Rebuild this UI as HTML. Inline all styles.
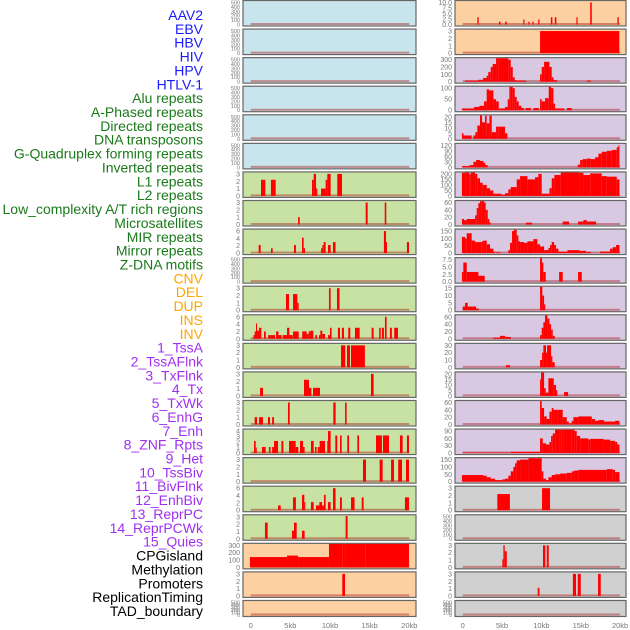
<!DOCTYPE html>
<html><head><meta charset="utf-8">
<style>
html,body{margin:0;padding:0;background:#fff;}
svg{display:block;font-family:"Liberation Sans",sans-serif;}
</style></head>
<body>
<svg id="chart" width="630" height="630" viewBox="0 0 630 630" xmlns="http://www.w3.org/2000/svg"></svg>
<script>
const labels = ["AAV2","EBV","HBV","HIV","HPV","HTLV-1","Alu repeats","A-Phased repeats","Directed repeats","DNA transposons","G-Quadruplex forming repeats","Inverted repeats","L1 repeats","L2 repeats","Low_complexity A/T rich regions","Microsatellites","MIR repeats","Mirror repeats","Z-DNA motifs","CNV","DEL","DUP","INS","INV","1_TssA","2_TssAFlnk","3_TxFlnk","4_Tx","5_TxWk","6_EnhG","7_Enh","8_ZNF_Rpts","9_Het","10_TssBiv","11_BivFlnk","12_EnhBiv","13_ReprPC","14_ReprPCWk","15_Quies","CPGisland","Methylation","Promoters","ReplicationTiming","TAD_boundary"];
const labelGroups = ["v","v","v","v","v","v","r","r","r","r","r","r","r","r","r","r","r","r","r","s","s","s","s","s","c","c","c","c","c","c","c","c","c","c","c","c","c","c","c","o","o","o","o","o"];
const panelBg = ["b","b","b","b","b","b","g","g","g","g","g","g","g","g","g","g","g","g","g","a","a","a","a","a","p","p","p","p","p","p","p","p","p","p","p","p","p","p","p","y","y","y","y","y"];
const T500=[0,100,200,300,400,500], T3=[0,1,2,3], T6=[0,2,4,6];
const ticks = [T500,T500,T500,T500,T500,T500,T3,T3,T6,T500,T3,T6,T3,T3,T3,[0,1,2,3,4],T3,T6,T3,[0,100,200,300],T3,T500,
 [0,2.5,5,7.5,10],T3,[0,100,200,300],[0,50,100],[0,5,10,15,20],[0,30,60,90,120],[0,50,100,150,200],[0,20,40,60],[0,50,100,150],[0,2.5,5,7.5],[0,5,10,15],[0,20,40,60],[0,10,20,30],[0,5,10,15,20],[0,20,40,60],[0,30,60,90],[0,50,100,150],T3,T500,T3,T3,T500];
const tickDec = [0,0,0,0,0,0,0,0,0,0,0,0,0,0,0,0,0,0,0,0,0,0,1,0,0,0,0,0,0,0,0,1,0,0,0,0,0,0,0,0,0,0,0,0];
// segments: [startKb, endKb, value]
const segs = [
[],[],[],[],[],[],
[[1.3,1.85,2.2],[2.55,3.15,2.2],[7.73,7.94,2.2],[7.94,8.24,3],[8.24,8.4,1],[8.87,9.45,1],[9.45,9.66,2.2],[9.66,10.08,3],[10.92,11.51,3]],
[[5.97,6.18,1],[14.5,14.75,3],[16.9,17.1,3]],
[[1.0,1.26,2.2],[2.56,2.77,1.3],[5.46,5.7,2.2],[6.47,6.68,4.2],[6.68,6.85,1.3],[8.87,9.04,1.3],[9.04,9.2,2.2],[9.2,9.45,3],[9.75,10.08,2.2],[10.38,10.7,3],[16.8,17.06,6],[17.06,17.18,3],[19.7,19.96,3]],
[],
[[4.45,4.83,2.2],[5.34,5.88,2.2],[5.88,6.05,1],[9.87,10.08,3],[10.88,11.2,3]],
[[0.34,0.5,1],[0.5,0.67,2],[0.67,0.8,4.2],[0.8,1.05,2.2],[1.05,1.34,3],[1.68,1.9,2],[2.2,2.5,1],[2.52,3.07,1],[3.2,3.5,2],[3.5,3.9,1],[4.03,4.58,1],[4.58,4.87,3],[4.87,5.3,1],[5.34,6.05,2],[6.5,7.06,2],[7.06,7.31,1.3],[7.31,7.52,2],[7.52,7.9,2.2],[8.15,8.36,1],[8.61,8.78,1],[8.78,9.03,2.2],[9.03,9.37,1.3],[9.75,10.0,1],[10.0,10.2,3],[11.0,11.26,3],[11.5,11.76,3],[12.3,12.56,3],[13.15,13.74,3],[15.25,15.5,3],[16.2,16.4,3],[16.55,16.8,3],[16.93,17.14,6],[17.56,17.8,3],[18.1,18.57,3]],
[[11.39,11.93,3],[12.14,12.52,3],[12.65,14.4,3]],
[[1.18,1.55,1.1],[6.72,7.35,2.2],[7.35,7.65,1.1],[7.86,8.74,1.1],[15.17,15.5,3]],
[[0.5,0.8,1],[1.05,1.55,1],[2.18,2.44,1],[2.7,2.94,1],[4.7,4.92,3],[10.42,10.71,3],[11.9,12.1,3]],
[[0.42,0.63,2.2],[0.63,0.76,1],[1.43,1.89,1.1],[2.3,2.5,1.1],[2.7,2.94,1.1],[2.94,3.45,2.2],[3.87,4.12,2.2],[4.83,5.67,2.2],[5.67,6.0,1.1],[6.22,6.6,2.2],[6.6,6.8,1.1],[7.6,7.94,2.2],[8.1,8.3,1.1],[8.45,8.7,1.1],[8.7,9.37,2.2],[9.66,9.75,2.2],[9.75,10.08,4],[10.67,10.92,3.2],[11.26,11.47,3.2],[12.18,12.4,3.2],[13.45,13.66,3.2],[15.8,16.55,3.2],[16.68,17.44,3.2],[18.82,19.16,3.2],[19.7,19.96,3.2]],
[[14.16,14.54,3],[16.26,16.64,3],[17.7,18.07,3],[18.6,19.08,3],[19.58,19.96,3]],
[[3.45,3.78,1.3],[5.34,5.7,3.5],[6.47,6.76,4.2],[6.76,6.85,2.2],[7.6,7.94,2.2],[8.24,8.66,1.3],[8.66,9.0,2.2],[9.0,9.24,1.3],[9.24,9.45,4.2],[9.75,10.08,2.2],[10.38,10.7,6],[11.26,11.5,3.5],[12.65,13.1,3.5],[14.0,14.24,3.5],[19.45,19.96,3.5]],
[[1.8,2.14,2.2],[5.2,5.46,1.1],[5.46,5.8,2.2],[6.47,6.8,1.1],[11.97,12.22,3.1]],
[[-0.1,4.58,140],[4.58,5.97,160],[5.97,9.87,140],[9.87,11.55,330],[11.55,11.9,350],[11.9,14.5,330],[14.5,19.96,345]],
[[11.55,11.9,3]],
[],
[[1.86,2.03,3.3],[4.6,4.8,1.3],[5.4,5.6,1.3],[7.7,7.85,2.3],[8.35,8.5,1.3],[8.85,9.0,1.3],[9.6,9.75,2.3],[11.2,11.4,3.3],[11.7,11.9,3.3],[14.45,14.6,3.3],[16.2,16.4,10],[19.66,19.83,3.3]],
[[9.83,19.9,3]],
[[0.3,2.0,15],[2.0,2.6,25],[2.6,3.05,50],[3.05,3.25,80],[3.25,3.56,130],[3.56,3.81,200],[3.81,4.24,240],[4.24,4.53,330],[4.53,5.8,370],[5.8,6.1,300],[6.1,6.36,200],[6.36,6.6,60],[6.6,6.86,20],[6.86,8.05,15],[9.83,10.04,100],[10.04,10.34,200],[10.34,11.02,270],[11.02,11.31,200],[11.31,11.53,60],[11.53,12.03,20],[15.8,16.3,15]],
[[-0.1,1.45,8],[1.45,2.12,15],[2.12,2.71,20],[2.71,3.05,40],[3.05,3.35,95],[3.35,3.9,90],[3.9,4.24,50],[4.24,4.58,40],[4.58,5.38,8],[5.38,5.72,15],[5.72,5.93,50],[5.93,6.06,110],[6.06,6.36,135],[6.36,6.61,100],[6.61,6.86,60],[6.86,7.12,40],[7.12,7.46,20],[7.46,7.8,10],[8.0,8.65,10],[9.0,9.66,10],[9.83,10.04,50],[10.04,10.47,40],[10.47,10.93,55],[10.93,11.23,135],[11.23,11.53,100],[11.53,11.74,30],[11.74,12.9,8],[13.26,13.85,10]],
[[-0.1,0.1,5],[0.1,1.14,3],[1.36,1.61,3],[1.61,1.86,6],[1.86,2.2,12],[2.2,2.46,22],[2.46,2.84,15],[2.84,3.05,21],[3.05,3.39,14],[3.39,3.69,21],[3.69,4.24,6],[4.24,4.53,11],[4.53,5.38,11],[5.38,5.68,5]],
[[-0.1,0.85,7],[0.85,1.36,12],[1.36,1.7,30],[1.7,2.2,40],[2.2,2.63,35],[2.63,2.88,25],[2.88,3.18,12],[14.62,14.92,15],[14.92,15.25,40],[15.25,15.76,45],[15.76,16.27,48],[16.27,16.82,45],[16.82,17.25,55],[17.25,17.67,75],[17.67,18.31,85],[18.31,18.94,90],[18.94,19.58,95],[19.58,19.79,110],[19.79,19.92,120]],
[[-0.1,0.3,210],[0.3,0.85,220],[0.85,1.02,195],[1.02,1.57,225],[1.57,1.86,200],[1.86,2.2,160],[2.2,2.54,120],[2.54,3.05,100],[3.05,3.47,70],[3.47,3.9,50],[3.9,4.96,20],[4.96,5.38,10],[5.38,5.8,25],[5.8,6.1,60],[6.1,6.86,80],[6.86,7.29,150],[7.29,8.22,180],[8.22,9.19,150],[9.19,9.62,170],[9.62,10.04,200],[10.04,11.02,20],[11.02,11.31,70],[11.31,11.65,160],[11.65,12.46,190],[12.46,14.83,215],[14.83,15.34,210],[15.34,16.19,190],[16.19,17.67,205],[17.67,18.31,180],[18.31,19.58,175],[19.58,19.92,150]],
[[-0.1,0.17,15],[0.17,0.51,12],[0.51,1.57,15],[1.57,1.78,25],[1.78,1.99,45],[1.99,2.2,58],[2.2,2.42,68],[2.42,2.71,70],[2.71,2.92,60],[2.92,3.18,40],[3.18,3.39,15],[3.39,3.56,5],[8.05,8.81,5],[12.71,13.52,8],[14.66,15.34,8],[15.34,15.76,12],[15.76,16.95,8]],
[[-0.1,0.3,110],[0.3,0.51,100],[0.51,1.14,135],[1.14,1.57,85],[1.57,2.42,75],[2.42,2.63,80],[2.63,3.05,85],[3.05,3.47,60],[3.47,3.9,30],[3.9,4.11,10],[4.24,4.8,5],[5.8,6.02,20],[6.02,6.27,70],[6.27,6.52,150],[6.52,6.86,170],[6.86,7.08,120],[7.08,7.29,80],[7.29,7.8,75],[7.8,8.22,70],[8.22,8.98,80],[8.98,9.49,95],[9.49,9.83,60],[9.83,10.34,45],[10.34,10.89,20],[10.89,11.1,35],[11.1,11.31,55],[11.31,11.61,75],[11.61,11.86,55],[11.86,12.16,30],[12.16,13.31,10],[13.31,14.83,20],[14.83,15.68,15],[15.76,16.27,8],[17.46,18.73,10],[18.73,19.07,30],[19.07,19.49,40],[19.49,19.92,55]],
[[-0.1,0.08,3.3],[0.08,0.51,6.5],[0.51,2.0,3.3],[2.0,2.8,2],[9.83,10.08,10],[10.08,10.25,6.5],[10.25,10.55,3.3],[12.25,12.71,3.3],[14.66,15.13,3.3]],
[[0,0.3,2.5],[0.3,0.64,5],[0.64,1.7,2.5],[1.7,2.03,1.2],[9.83,10.12,20],[10.12,10.34,10],[10.34,10.5,4]],
[[3.86,4.75,3],[4.75,5.38,8],[5.38,6.1,5],[9.83,10.04,10],[10.04,10.25,30],[10.25,10.46,45],[10.46,10.76,65],[10.76,11.02,55],[11.02,11.23,40],[11.23,11.44,25],[11.44,11.69,8]],
[[5.5,6.0,3],[9.83,10.08,10],[10.08,10.25,20],[10.25,10.59,30],[10.59,10.72,20],[10.72,11.23,30],[11.23,11.4,15],[11.4,11.69,7]],
[[9.83,9.96,15],[9.96,10.34,22],[10.34,10.55,7],[10.55,10.89,3],[10.89,11.57,16],[11.57,11.86,10],[11.86,12.03,5],[12.88,13.39,3.5]],
[[9.83,10.04,65],[10.04,10.34,45],[10.34,10.68,22],[10.68,11.02,15],[11.02,11.31,35],[11.31,11.53,45],[11.53,12.03,40],[12.03,12.71,40],[12.71,13.22,20],[13.22,13.47,8],[13.47,13.86,3],[13.86,14.07,10],[14.07,14.7,20],[14.7,16.4,22],[16.4,16.82,15],[16.82,17.25,10],[17.25,17.97,12],[17.97,19.36,8],[19.36,19.92,10]],
[[0,6.1,2],[6.1,9.83,5],[9.83,10.17,60],[10.17,10.59,40],[10.59,11.02,35],[11.02,11.23,45],[11.23,11.44,70],[11.44,11.74,80],[11.74,12.29,100],[12.29,12.58,95],[12.58,12.8,108],[12.8,13.86,110],[13.86,14.19,105],[14.19,14.49,90],[14.49,14.92,70],[14.92,15.97,60],[15.97,16.19,55],[16.19,17.88,58],[17.88,18.73,55],[18.73,19.36,50],[19.36,19.66,45],[19.66,19.92,35]],
[[-0.1,2.63,45],[2.63,3.05,40],[3.05,3.56,30],[3.56,4.11,20],[4.11,5.04,10],[5.04,5.38,15],[5.38,5.8,20],[5.8,6.1,40],[6.1,6.44,70],[6.44,6.65,100],[6.65,6.86,125],[6.86,7.29,145],[7.29,8.35,150],[8.35,10.04,160],[10.04,10.25,70],[10.25,10.59,20],[10.59,10.89,10],[10.89,11.31,30],[11.31,11.74,45],[11.74,12.37,50],[12.37,13.22,55],[13.22,13.86,60],[13.86,14.15,70],[14.15,14.7,75],[14.7,18.31,80],[18.31,19.07,85],[19.07,19.36,80],[19.36,19.92,65]],
[[4.4,6.0,2.2],[10.08,11.1,3]],
[],
[[5.04,5.17,1.1],[5.17,5.34,3],[5.34,5.6,2.2],[10.2,10.5,3],[10.68,10.93,3]],
[[9.53,9.75,1.1],[14.0,14.4,3],[14.62,15.0,3],[17.2,17.54,3]],
[]
];
const xTickVals = [0,5,10,15,20];
const xTickLabels = ["0","5kb","10kb","15kb","20kb"];

const NS="http://www.w3.org/2000/svg";
const svg=document.getElementById('chart');
function mk(tag,attrs,parent){const e=document.createElementNS(NS,tag);for(const k in attrs)e.setAttribute(k,attrs[k]);(parent||svg).appendChild(e);return e;}
const labelColor={v:"#1a1aff",r:"#1a7a1a",s:"#ffa500",c:"#a030f0",o:"#000000"};
const bgColor={b:"#c8e4ec",g:"#c8e2a4",a:"#fdd0a2",p:"#d8c8e2",y:"#d0d0d0"};

// labels
const lg=mk('g',{});


labels.forEach((t,i)=>{
  const e=mk('text',{x:203,y:20+i*13.86,'text-anchor':'end','font-size':14,fill:labelColor[labelGroups[i]]},lg);
  e.textContent=t;
  
  
});

function xScale(col,kb){return col===0?250.7+kb*7.93:462.7+kb*7.87;}

labels.forEach((t,i)=>{
  const col=i<22?0:1, row=i%22;
  const top=row*28.57+0.5, h=row===21?16:25.5;
  const x0=col===0?243:455, w=col===0?173:171;
  const g=mk('g',{});
  
  
  const bg=mk('rect',{x:x0,y:top,width:w,height:h,fill:bgColor[panelBg[i]],stroke:'#666','stroke-width':1.2},g);
  
  
  const tk=ticks[i], tmax=tk[tk.length-1];
  const y0=top+h-1.5, y1=top+2;
  const ys=v=>Math.max(top+0.6,y0-(v/tmax)*(y0-y1));
  const fs=tk.length>5?5.5:7;
  tk.forEach(v=>{
    const e=mk('text',{x:x0-3,y:ys(v)+fs*0.36,'text-anchor':'end','font-size':fs,fill:'#777'},g);
    e.textContent=tickDec[i]?v.toFixed(1):String(v);
    
    
  });
  const bl=mk('line',{x1:xScale(col,0),x2:xScale(col,20),y1:y0-0.5,y2:y0-0.5,stroke:'rgba(170,30,30,0.45)','stroke-width':2},g);
  
  
  segs[i].forEach(s=>{
    const xa=xScale(col,s[0]), xb=xScale(col,s[1]);
    const r=mk('rect',{x:xa,y:ys(s[2]),width:Math.max(1,xb-xa),height:y0-ys(s[2]),fill:'#ff0000'},g);
    
    
  });
});

[0,1].forEach(col=>{
  xTickVals.forEach((v,k)=>{
    const e=mk('text',{x:xScale(col,v),y:628,'text-anchor':'middle','font-size':7.5,fill:'#777'});
    e.textContent=xTickLabels[k];
    
    
  });
});
</script>
</body></html>
